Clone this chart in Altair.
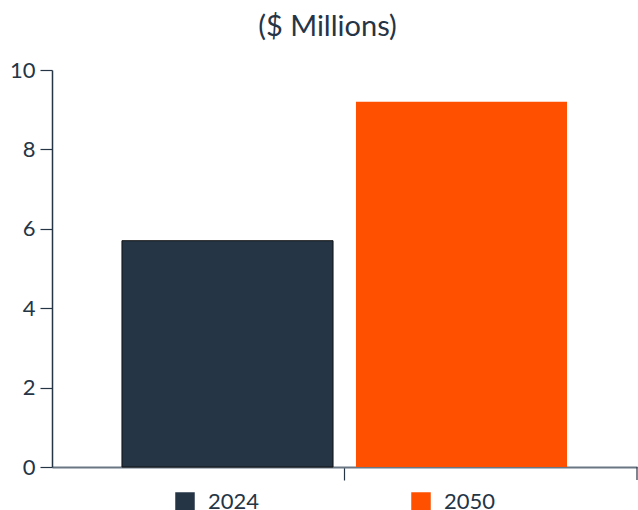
import altair as alt
import pandas as pd

years = ["2024", "2050"]
values = [5.7, 9.2]
group = ["", ""]
colors = ["#253546", "#FF5000"]

df = pd.DataFrame({"group": group, "year": years, "value": values})

FONT = "Lato"
INK = "#253546"

bars = alt.Chart(df).mark_bar(strokeWidth=1).encode(
    x=alt.X("group:N", title=None,
            scale=alt.Scale(paddingInner=0, paddingOuter=0),
            axis=alt.Axis(labels=False, domainColor="#6b7683", domainWidth=2,
                          tickColor=INK, tickSize=13, tickWidth=1.2)),
    xOffset=alt.XOffset("year:N", scale=alt.Scale(paddingInner=0.098, paddingOuter=0.299)),
    y=alt.Y("value:Q", title=None,
            scale=alt.Scale(domain=[0, 10]),
            axis=alt.Axis(values=[0, 2, 4, 6, 8, 10], grid=False, domainColor=INK,
                          domainWidth=1.5, tickColor=INK, tickSize=12, tickWidth=1.2,
                          labelFontSize=22, labelColor=INK, labelFont=FONT, labelPadding=5)),
    fill=alt.Fill("year:N", scale=alt.Scale(domain=years, range=colors),
                  legend=alt.Legend(title=None, orient="none", direction="horizontal",
                                    legendX=122, legendY=421, symbolType="square",
                                    symbolSize=380, symbolStrokeWidth=0,
                                    labelFontSize=22, labelFont=FONT, labelColor=INK,
                                    labelOffset=12, columnPadding=150, padding=0)),
    stroke=alt.condition(alt.datum.year == "2024", alt.value("#111111"), alt.value("transparent")),
)

edge = alt.Chart(df).transform_aggregate(n="count()", groupby=["group"]).mark_rule(
    color=INK, strokeWidth=1.2
).encode(
    x=alt.X("group:N", bandPosition=1),
    y=alt.value(397),
    y2=alt.value(410),
)

chart = alt.layer(bars, edge).properties(
    width=585, height=397,
    title=alt.TitleParams("($ Millions)", fontSize=29, font=FONT, fontWeight="normal",
                          color=INK, anchor="middle", dx=-17, offset=17),
    autosize=alt.AutoSizeParams(type="none"),
    padding={"left": 52, "top": 70, "right": 1, "bottom": 43},
).configure_view(stroke=None)

chart.save("out.html", embed_options={"renderer": "svg", "actions": False})
